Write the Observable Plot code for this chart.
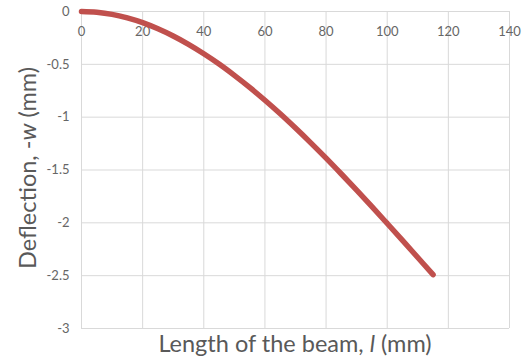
<!DOCTYPE html>
<html>
<head>
<meta charset="utf-8">
<script src="https://cdn.jsdelivr.net/npm/d3@7"></script>
<script src="https://cdn.jsdelivr.net/npm/@observablehq/plot@0.6"></script>
<style>
  html, body { margin: 0; padding: 0; background: #fff; }
  #wrap { position: relative; width: 528px; height: 364px; overflow: hidden; font-family: Lato, "Open Sans", sans-serif; }
  #chart { position: absolute; left: 0; top: 0; }
  .xtitle { position: absolute; left: 0; width: 590px; top: 329px; line-height: 28px; text-align: center; font-size: 23.5px; color: #595959; white-space: nowrap; }
  .ytitle { position: absolute; left: 27px; top: 168px; line-height: 28px; transform: translate(-50%, -50%) rotate(-90deg); font-size: 23.5px; color: #595959; white-space: nowrap; }
</style>
</head>
<body>
<div id="wrap">
  <div id="chart"></div>
  <div class="ytitle">Deflection, -<i>w</i> (mm)</div>
  <div class="xtitle">Length of the beam, <i>l</i> (mm)</div>
</div>
<script>
const lengthMm = [0, 5, 10, 15, 20, 25, 30, 35, 40, 45, 50, 55, 60, 65, 70, 75, 80, 85, 90, 95, 100, 105, 110, 115];
const deflectionMm = [0, -0.007, -0.027, -0.061, -0.106, -0.164, -0.232, -0.311, -0.400, -0.497, -0.604, -0.718, -0.840, -0.968, -1.103, -1.243, -1.388, -1.538, -1.691, -1.847, -2.006, -2.166, -2.328, -2.490];
const xTicks = [0, 20, 40, 60, 80, 100, 120, 140];
const yTicks = [0, -0.5, -1, -1.5, -2, -2.5, -3];

const data = lengthMm.map((x, i) => ({x, y: deflectionMm[i]}));

const chart = Plot.plot({
  width: 528,
  height: 340,
  marginLeft: 81,
  marginRight: 19,
  marginTop: 11,
  marginBottom: 12,
  style: {fontFamily: "Lato, 'Open Sans', sans-serif", fontSize: "13px", color: "#595959", background: "#fff"},
  x: {domain: [0, 140]},
  y: {domain: [-3, 0]},
  marks: [
    Plot.gridX(xTicks, {stroke: "#d9d9d9", strokeOpacity: 1, strokeWidth: 1}),
    Plot.gridY(yTicks, {stroke: "#d9d9d9", strokeOpacity: 1, strokeWidth: 1}),
    Plot.axisX(xTicks, {anchor: "top", tickSize: 0, tickPadding: -24, label: null, fill: "#666", fontSize: 13}),
    Plot.axisY(yTicks, {anchor: "left", tickSize: 0, tickPadding: 12, label: null, fill: "#666", fontSize: 13, tickFormat: d => String(d)}),
    Plot.line(data, {x: "x", y: "y", stroke: "#C0504D", strokeWidth: 5.5, strokeLinecap: "round", strokeLinejoin: "round", curve: "catmull-rom"})
  ]
});
document.getElementById("chart").appendChild(chart);
</script>
</body>
</html>
